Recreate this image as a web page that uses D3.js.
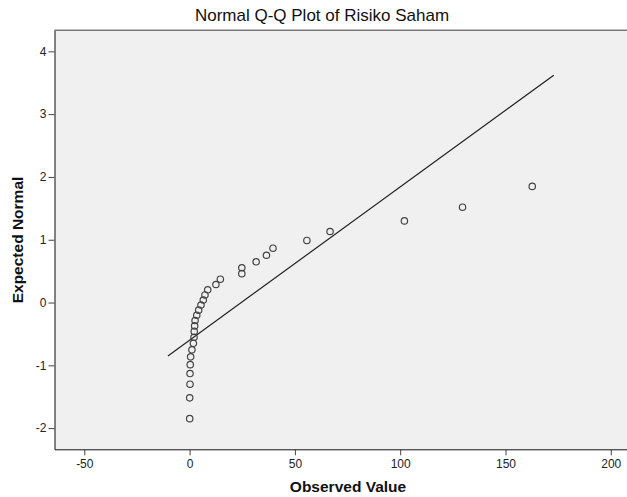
<!DOCTYPE html>
<html>
<head>
<meta charset="utf-8">
<script src="https://cdn.jsdelivr.net/npm/d3@7"></script>
<style>
  body { margin: 0; background: #fff; }
  text { font-family: "Liberation Sans", Arial, sans-serif; }
</style>
</head>
<body>
<svg id="qq" width="627" height="497"></svg>
<script>
// Data.
const observed = [0.05, 0.05, 0.2, 0.2, 0.3, 0.5, 1.1, 1.8, 2.1, 2.2, 2.4, 2.6, 3.4, 4.3, 5.4,
                  6.5, 7.3, 8.6, 12.5, 14.6, 24.8, 24.8, 31.6, 36.5, 39.6, 55.7, 66.7, 102, 129.6, 162.7];
const expected = [-1.849, -1.518, -1.300, -1.131, -0.989, -0.865, -0.753, -0.649, -0.553, -0.460,
                  -0.372, -0.287, -0.203, -0.121, -0.040, 0.040, 0.121, 0.203, 0.287, 0.372,
                  0.460, 0.553, 0.649, 0.753, 0.865, 0.989, 1.131, 1.300, 1.518, 1.849];
const lineX = [-10.3, 172.9];
const lineY = [-0.85, 3.62];
const xTicks = [-50, 0, 50, 100, 150, 200];
const yTicks = [-2, -1, 0, 1, 2, 3, 4];

var qq = {};
qq.draw = function() {
    const left = 54.5, right = 627, top = 30.3, bottom = 449.3;
    const svg = d3.select("#qq");

    var xScale = d3.scaleLinear().domain([-64.15, 207.7]).range([left, right]);
    var yScale = d3.scaleLinear().domain([-2.337, 4.335]).range([bottom, top]);
    // plain hyphen minus, as in the original
    var fmt = function(d) { return String(d); };

    // plot background
    svg.append("rect")
        .attr("x", left).attr("y", top)
        .attr("width", right - left).attr("height", bottom - top)
        .attr("fill", "#f0f0f0");
    svg.append("line")
        .attr("x1", left).attr("x2", right)
        .attr("y1", top).attr("y2", top)
        .attr("stroke", "#7a7a7a").attr("stroke-width", 1.6);

    // axes
    var xAxis = svg.append("g")
        .attr("transform", "translate(0," + bottom + ")")
        .call(d3.axisBottom(xScale).tickValues(xTicks).tickFormat(fmt)
              .tickSize(6).tickSizeOuter(0).tickPadding(4));
    var yAxis = svg.append("g")
        .attr("transform", "translate(" + left + ",0)")
        .call(d3.axisLeft(yScale).tickValues(yTicks).tickFormat(fmt)
              .tickSize(6).tickSizeOuter(0).tickPadding(2));
    [xAxis, yAxis].forEach(function(a) {
        a.select(".domain").attr("stroke", "#111");
        a.selectAll(".tick line").attr("stroke", "#444");
        a.selectAll("text")
            .attr("font-family", "'Liberation Sans', Arial, sans-serif")
            .attr("font-size", 12).attr("fill", "#222");
    });

    // reference line
    svg.append("line")
        .attr("x1", xScale(lineX[0])).attr("y1", yScale(lineY[0]))
        .attr("x2", xScale(lineX[1])).attr("y2", yScale(lineY[1]))
        .attr("stroke", "#222").attr("stroke-width", 1.2);

    // points
    svg.append("g").selectAll("circle")
        .data(observed)
        .enter().append("circle")
        .attr("cx", function(d) { return xScale(d); })
        .attr("cy", function(d, i) { return yScale(expected[i]); })
        .attr("r", 3.2)
        .attr("fill", "none")
        .attr("stroke", "#444")
        .attr("stroke-width", 1.2);

    // titles
    svg.append("text")
        .attr("x", 322).attr("y", 21)
        .attr("text-anchor", "middle")
        .attr("font-size", 17).attr("fill", "#111")
        .text("Normal Q-Q Plot of Risiko Saham");
    svg.append("text")
        .attr("x", 348).attr("y", 492)
        .attr("text-anchor", "middle")
        .attr("font-size", 15.5).attr("font-weight", "bold").attr("fill", "#111")
        .text("Observed Value");
    svg.append("text")
        .attr("transform", "translate(23,240) rotate(-90)")
        .attr("text-anchor", "middle")
        .attr("font-size", 15.5).attr("font-weight", "bold").attr("fill", "#111")
        .text("Expected Normal");
}
qq.draw();
</script>
</body>
</html>
